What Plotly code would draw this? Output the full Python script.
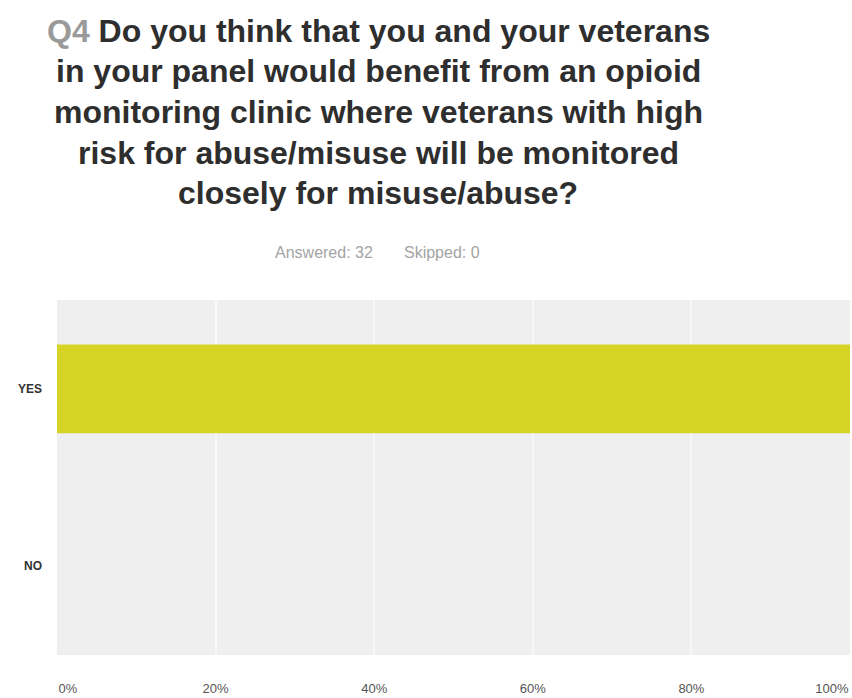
import plotly.graph_objects as go

categories = ["YES", "NO"]
values = [100, 0]
tick_vals = [0, 20, 40, 60, 80, 100]
tick_text = ["0%", "20%", "40%", "60%", "80%", "100%"]

title_lines = [
    "<span style='color:#9a9a9a'>Q4</span> Do you think that you and your veterans",
    "in your panel would benefit from an opioid",
    "monitoring clinic where veterans with high",
    "risk for abuse/misuse will be monitored",
    "closely for misuse/abuse?",
]
subtitle = "Answered: 32&nbsp;&nbsp;&nbsp;&nbsp;&nbsp;&nbsp;&nbsp;Skipped: 0"

W, H = 852, 698
PL, PR, PT, PB = 57, 850, 300, 655


def px(x):
    return (x - PL) / (PR - PL)


def py(y):
    return (PB - y) / (PB - PT)


# keep edge labels inside the frame, as in the reference
NB = "&nbsp;"
shown_ticks = list(tick_text)
shown_ticks[0] = NB * 6 + shown_ticks[0]
shown_ticks[-1] = shown_ticks[-1] + NB * 10

fig = go.Figure(go.Bar(
    y=categories, x=values, orientation="h",
    marker=dict(color="#d5d424", line=dict(width=0)),
    width=0.5,
))

title_font = "Liberation Sans, Arial, sans-serif"
centers = [31, 71, 112, 153, 193]
for line, yc in zip(title_lines, centers):
    fig.add_annotation(
        text="<b>" + line + "</b>", x=px(378), y=py(yc), xref="paper", yref="paper",
        xanchor="center", yanchor="middle", showarrow=False,
        font=dict(family=title_font, size=32, color="#2e2e2e"),
    )
fig.add_annotation(
    text=subtitle, x=px(377), y=py(252), xref="paper", yref="paper",
    xanchor="center", yanchor="middle", showarrow=False,
    font=dict(family=title_font, size=16, color="#a4a4a4"),
)

fig.update_layout(
    width=W, height=H,
    margin=dict(l=PL, r=W - PR, t=PT, b=H - PB, autoexpand=False),
    paper_bgcolor="white", plot_bgcolor="#efefef",
    showlegend=False,
    xaxis=dict(range=[0, 100], tickvals=tick_vals, ticktext=shown_ticks,
               showgrid=True, gridcolor="#f8f8f8", gridwidth=2, zeroline=False,
               ticks="", ticklabelstandoff=24, ticklabeloverflow="allow",
               automargin=False,
               tickfont=dict(family=title_font, size=13, color="#555555"),
               showline=False, fixedrange=True),
    yaxis=dict(categoryorder="array", categoryarray=["NO", "YES"],
               showgrid=False, zeroline=False, ticks="", ticklabelstandoff=14,
               automargin=False,
               tickfont=dict(family=title_font, size=12, color="#333333"),
               fixedrange=True),
    bargap=0.5,
)
fig.update_yaxes(tickprefix="<b>", ticksuffix="</b>")

fig.write_html("out.html")
